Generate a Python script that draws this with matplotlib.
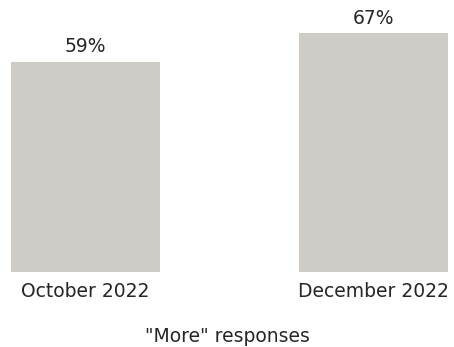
import matplotlib.pyplot as plt

months = ['October 2022', 'December 2022']
more = [59, 67]

bar_color = '#cfccc7'
text_color = '#262626'
fs = 13.5

fig = plt.figure(figsize=(4.54, 3.47), dpi=100)
ax = fig.add_axes([0, 75/347, 1, 272/347])

x = range(len(months))
bars = ax.bar(x, more, width=149/288, color=bar_color)

for b, v in zip(bars, more):
    ax.annotate('%d%%' % v, (b.get_x() + b.get_width()/2, v),
                xytext=(0, 4), textcoords='offset points',
                ha='center', va='bottom', fontsize=fs, color=text_color)

ax.set_xlim(-85.5/288, 1 + 80.5/288)
ax.set_ylim(0, 272/3.565)
ax.set_xticks(list(x))
ax.set_xticklabels(months, fontsize=fs, color=text_color)
ax.tick_params(axis='x', length=0, pad=7)
ax.set_yticks([])
for s in ax.spines.values():
    s.set_visible(False)

fig.text(0.5, 1 - 337/347, '"More" responses', ha='center', va='center',
         fontsize=fs, color=text_color)

fig.savefig('out.png', dpi=100)
